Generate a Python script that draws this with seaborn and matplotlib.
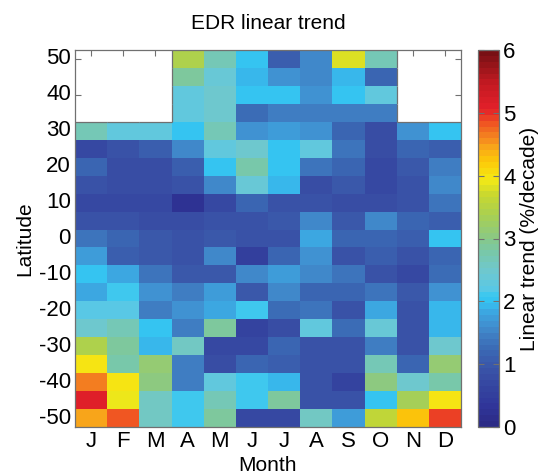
import numpy as np
import pandas as pd
import matplotlib
matplotlib.use("Agg")
import matplotlib.pyplot as plt
import seaborn as sns
from matplotlib.colors import LinearSegmentedColormap, ListedColormap
from matplotlib.collections import LineCollection

nan = np.nan
months = ['J', 'F', 'M', 'A', 'M', 'J', 'J', 'A', 'S', 'O', 'N', 'D']
lats = [50, 45, 40, 35, 30, 25, 20, 15, 10, 5, 0, -5, -10, -15, -20, -25, -30, -35, -40, -45, -50]

# linear trend (%/decade), one list per latitude, Jan..Dec
r50 = [nan, nan, nan, 3.4, 2.7, 2.0, 1.1, 1.5, 3.8, 2.7, nan, nan]
r45 = [nan, nan, nan, 2.9, 2.4, 1.9, 1.6, 1.5, 1.9, 1.2, nan, nan]
r40 = [nan, nan, nan, 2.3, 2.5, 2.0, 2.0, 1.6, 2.0, 2.3, nan, nan]
r35 = [nan, nan, nan, 2.3, 2.5, 1.3, 1.45, 1.45, 1.45, 1.45, nan, nan]
r30 = [2.7, 2.3, 2.3, 2.0, 2.7, 1.6, 1.7, 1.6, 1.2, 0.8, 1.6, 2.0]
r25 = [0.7, 0.85, 1.1, 1.5, 2.3, 2.5, 2.0, 2.3, 1.4, 0.75, 1.15, 1.1]
r20 = [1.2, 0.75, 0.75, 1.1, 2.0, 2.8, 2.0, 1.4, 1.2, 0.7, 1.0, 1.45]
r15 = [0.85, 0.8, 0.75, 0.9, 1.5, 2.4, 1.95, 0.8, 1.0, 0.7, 0.85, 1.5]
r10 = [0.7, 0.7, 0.7, 0.2, 0.7, 1.2, 0.85, 0.85, 0.75, 0.8, 0.85, 1.4]
r5 = [0.9, 0.9, 0.8, 0.8, 0.9, 0.85, 0.95, 1.5, 0.95, 1.5, 1.2, 1.1]
r0 = [1.4, 1.2, 0.95, 0.9, 1.0, 0.85, 0.9, 1.8, 1.2, 1.2, 1.1, 2.0]
rm5 = [1.75, 1.1, 0.95, 0.9, 1.5, 0.55, 1.2, 1.65, 0.85, 1.1, 0.85, 1.2]
rm10 = [2.0, 1.8, 1.35, 0.95, 0.95, 1.5, 1.7, 1.5, 1.35, 0.9, 0.7, 1.3]
rm15 = [1.8, 2.1, 1.6, 1.45, 1.7, 0.95, 1.5, 1.2, 1.2, 1.4, 1.0, 1.6]
rm20 = [2.2, 2.2, 1.45, 1.6, 1.8, 2.1, 1.3, 1.4, 0.85, 1.8, 0.9, 1.9]
rm25 = [2.5, 2.65, 2.0, 1.45, 2.9, 0.65, 0.8, 2.3, 1.3, 2.4, 0.9, 1.9]
rm30 = [3.4, 2.9, 1.9, 2.6, 0.7, 0.7, 1.2, 0.85, 0.9, 1.45, 0.85, 2.5]
rm35 = [4.0, 2.75, 3.1, 1.45, 0.75, 1.2, 1.1, 0.85, 0.85, 2.7, 1.2, 3.1]
rm40 = [4.65, 4.0, 3.05, 1.45, 2.3, 2.1, 1.9, 0.85, 0.6, 3.0, 2.5, 2.75]
rm45 = [5.1, 3.85, 2.55, 2.1, 2.65, 2.1, 2.9, 0.85, 0.85, 2.0, 3.35, 4.0]
rm50 = [4.45, 4.85, 2.55, 2.1, 2.9, 0.7, 0.7, 2.55, 1.7, 3.65, 4.25, 4.95]

rows = [r50, r45, r40, r35, r30, r25, r20, r15, r10, r5, r0, rm5, rm10,
        rm15, rm20, rm25, rm30, rm35, rm40, rm45, rm50]
cols = [f"{m}{i}" for i, m in enumerate(months)]
df = pd.DataFrame(rows, index=lats, columns=cols)

vmin, vmax = 0, 6
anchors = [
    (0.0, "#2b2b86"), (0.3, "#30369a"), (0.6, "#3545a0"), (0.9, "#3a55a8"),
    (1.2, "#3a6ab5"), (1.45, "#4080c4"), (1.6, "#4090d0"), (1.8, "#3da5e0"),
    (1.95, "#36bff0"), (2.05, "#33c8f2"), (2.2, "#5cc8e4"), (2.5, "#70c8cc"),
    (2.75, "#78c8aa"), (3.0, "#88c888"), (3.4, "#aad050"), (3.7, "#c8d830"),
    (3.95, "#f5ea15"), (4.25, "#fcc808"), (4.5, "#f8a01c"), (4.7, "#f37a20"),
    (4.9, "#ef5022"), (5.1, "#e3202a"), (5.5, "#c41a22"), (6.0, "#781014"),
]
base = LinearSegmentedColormap.from_list(
    "edr", [((v - vmin) / (vmax - vmin), c) for v, c in anchors])
cmap = ListedColormap(base(np.linspace(0, 1, 64)))

plt.rcParams['font.family'] = ['Liberation Sans', 'DejaVu Sans']
fs = 15
tfs = 16
W, H = 541, 475
fig = plt.figure(figsize=(W / 100, H / 100), dpi=100)
ax = fig.add_axes([75 / W, 1 - 427 / H, 386 / W, 377 / H])
cax = fig.add_axes([478 / W, 1 - 427 / H, 21 / W, 377 / H])

sns.heatmap(df, ax=ax, cbar_ax=cax, cmap=cmap, vmin=vmin, vmax=vmax,
            cbar_kws={"ticks": list(range(0, 7))})

frame = "#707070"
ax.set_axisbelow(True)
for s in ax.spines.values():
    s.set_visible(True)
    s.set_color(frame)
    s.set_linewidth(0.9)

# outline around the missing-data block, derived from the mask
mask = df.isna().values
nr, nc = mask.shape
segs = []
for i in range(nr):
    for j in range(nc):
        if not mask[i, j]:
            continue
        if i + 1 < nr and not mask[i + 1, j]:
            segs.append([(j, i + 1), (j + 1, i + 1)])
        if i - 1 >= 0 and not mask[i - 1, j]:
            segs.append([(j, i), (j + 1, i)])
        if j + 1 < nc and not mask[i, j + 1]:
            segs.append([(j + 1, i), (j + 1, i + 1)])
        if j - 1 >= 0 and not mask[i, j - 1]:
            segs.append([(j, i), (j, i + 1)])
ax.add_collection(LineCollection(segs, colors=frame, linewidths=0.9, zorder=3))

ax.set_xticks([j + 0.5 for j in range(nc)])
ax.set_xticklabels(months, rotation=0)
ytick_pos = [i + 0.5 for i, la in enumerate(lats) if la % 10 == 0]
ytick_lab = [str(la) for la in lats if la % 10 == 0]
ax.set_yticks(ytick_pos)
ax.set_yticklabels(ytick_lab, rotation=0)
ax.tick_params(axis='both', which='both', direction='in', length=4,
               width=0.8, color=frame, labelsize=tfs, top=True, right=True,
               labeltop=False, labelright=False, pad=3)
ax.set_xlabel("Month", fontsize=fs, labelpad=3)
ax.set_ylabel("Latitude", fontsize=fs, labelpad=3)
ax.set_title("EDR linear trend", fontsize=fs, pad=15)

cbar = ax.collections[0].colorbar
cbar.outline.set_edgecolor(frame)
cbar.outline.set_linewidth(0.9)
cax.tick_params(direction='in', length=4, width=0.8, color=frame,
                labelsize=tfs, left=True, right=True, pad=3)
cbar.set_label("Linear trend (%/decade)", fontsize=fs, labelpad=3)

fig.savefig("out.png", dpi=100, facecolor="white")
